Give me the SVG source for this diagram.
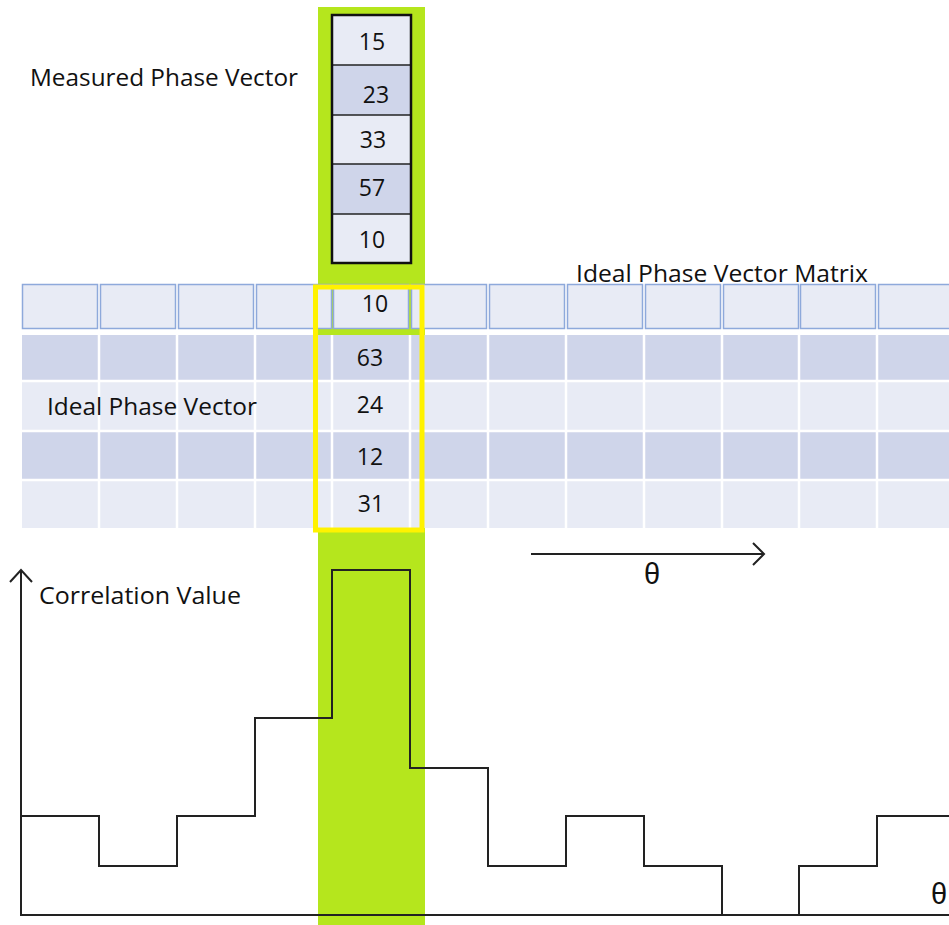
<svg xmlns="http://www.w3.org/2000/svg" width="949" height="925" viewBox="0 0 949 925">
<style>
.t{font-family:"Open Sans","Liberation Sans",sans-serif;font-size:23px;fill:#111}
.n{font-family:"Open Sans","Liberation Sans",sans-serif;font-size:23px;fill:#111;text-anchor:middle}
.th{font-family:"Liberation Sans","DejaVu Sans",sans-serif;font-size:29px;fill:#111;text-anchor:middle}
.lt{fill:#E8EBF5}
.dk{fill:#CFD5EA}
.hd{fill:#E8EBF5;stroke:#8EA9DB;stroke-width:1.5}
.ln{fill:none;stroke:#222;stroke-width:2}
.wl{stroke:#fff;stroke-width:2.5}
</style>
<rect width="949" height="925" fill="#fff"/>
<!-- green highlight column -->
<rect id="highlight" x="318" y="7" width="107" height="918" fill="#B5E61D"/>

<!-- measured phase vector -->
<g id="measured">
<rect x="332" y="15" width="79" height="50" class="lt"/>
<rect x="332" y="65" width="79" height="50" class="dk"/>
<rect x="332" y="115" width="79" height="49" class="lt"/>
<rect x="332" y="164" width="79" height="50" class="dk"/>
<rect x="332" y="214" width="79" height="49" class="lt"/>
<g stroke="#222" stroke-width="1.5">
<line x1="332" y1="65" x2="411" y2="65"/>
<line x1="332" y1="115" x2="411" y2="115"/>
<line x1="332" y1="164" x2="411" y2="164"/>
<line x1="332" y1="214" x2="411" y2="214"/>
</g>
<rect x="332" y="15" width="79" height="248" fill="none" stroke="#111" stroke-width="2.5"/>
<text class="n" x="372" y="50">15</text>
<text class="n" x="376" y="103">23</text>
<text class="n" x="373" y="148">33</text>
<text class="n" x="372" y="196">57</text>
<text class="n" x="372" y="248">10</text>
</g>
<text class="t" x="30" y="86" textLength="268" lengthAdjust="spacingAndGlyphs">Measured Phase Vector</text>

<!-- ideal phase vector matrix -->
<g id="matrix">
<g>
<rect class="hd" x="22.5" y="284.5" width="75" height="44"/>
<rect class="hd" x="100.5" y="284.5" width="75" height="44"/>
<rect class="hd" x="178.5" y="284.5" width="75" height="44"/>
<rect class="hd" x="256.5" y="284.5" width="75" height="44"/>
<rect class="hd" x="333.5" y="284.5" width="75" height="44"/>
<rect class="hd" x="411.5" y="284.5" width="75" height="44"/>
<rect class="hd" x="489.5" y="284.5" width="75" height="44"/>
<rect class="hd" x="567.5" y="284.5" width="75" height="44"/>
<rect class="hd" x="645.5" y="284.5" width="75" height="44"/>
<rect class="hd" x="723.5" y="284.5" width="75" height="44"/>
<rect class="hd" x="800.5" y="284.5" width="75" height="44"/>
<rect class="hd" x="878.5" y="284.5" width="75" height="44"/>
</g>
<rect class="dk" x="22" y="335" width="927" height="46"/>
<rect class="lt" x="22" y="381" width="927" height="50"/>
<rect class="dk" x="22" y="431" width="927" height="49"/>
<rect class="lt" x="22" y="480" width="927" height="48"/>
<g class="wl">
<line x1="22" y1="381" x2="949" y2="381"/>
<line x1="22" y1="431" x2="949" y2="431"/>
<line x1="22" y1="480" x2="949" y2="480"/>
<line x1="99" y1="335" x2="99" y2="528"/>
<line x1="177" y1="335" x2="177" y2="528"/>
<line x1="255" y1="335" x2="255" y2="528"/>
<line x1="332" y1="335" x2="332" y2="528"/>
<line x1="410" y1="335" x2="410" y2="528"/>
<line x1="488" y1="335" x2="488" y2="528"/>
<line x1="566" y1="335" x2="566" y2="528"/>
<line x1="644" y1="335" x2="644" y2="528"/>
<line x1="722" y1="335" x2="722" y2="528"/>
<line x1="799" y1="335" x2="799" y2="528"/>
<line x1="877" y1="335" x2="877" y2="528"/>
</g>
</g>
<text class="t" x="576" y="282" textLength="292" lengthAdjust="spacingAndGlyphs">Ideal Phase Vector Matrix</text>
<text class="t" x="47" y="415" textLength="210" lengthAdjust="spacingAndGlyphs">Ideal Phase Vector</text>

<!-- ideal phase vector (selected column) -->
<g id="ideal">
<rect x="315.5" y="287" width="106.5" height="243" fill="none" stroke="#FFF200" stroke-width="5"/>
<text class="n" x="375" y="312">10</text>
<text class="n" x="370" y="366">63</text>
<text class="n" x="370" y="413">24</text>
<text class="n" x="370" y="465">12</text>
<text class="n" x="371" y="512">31</text>
</g>

<!-- theta direction arrow -->
<g id="connectors">
<line class="ln" x1="531" y1="554" x2="764" y2="554"/>
<polyline class="ln" points="753,543 764,554 753,565"/>
<!-- axes -->
<polyline class="ln" points="21,570 21,915 949,915"/>
<polyline class="ln" points="10,582 21,570 32,582"/>
</g>
<text class="th" x="652" y="584">θ</text>

<g id="chart">
<polyline class="ln" points="21,816 99,816 99,866 177,866 177,816 255,816 255,718 332,718 332,570 410,570 410,768 488,768 488,866 566,866 566,816 644,816 644,866 722,866 722,915 799,915 799,866 877,866 877,816 949,816"/>
</g>
<text class="t" x="39" y="604" textLength="202" lengthAdjust="spacingAndGlyphs">Correlation Value</text>
<text class="th" x="939" y="904">θ</text>
</svg>
